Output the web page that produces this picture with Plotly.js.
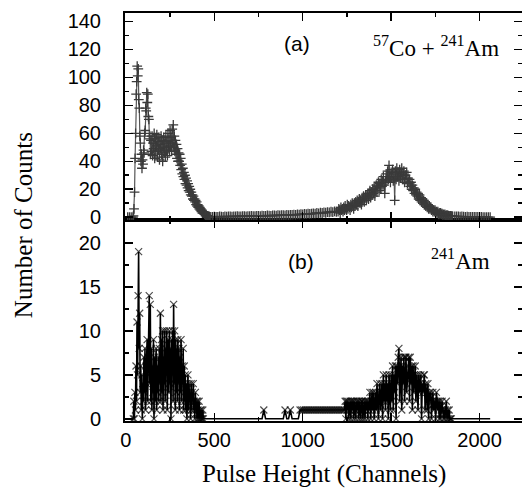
<!DOCTYPE html>
<html>
<head>
<meta charset="utf-8">
<script src="https://cdn.plot.ly/plotly-3.0.1.min.js"></script>
<style>html,body{margin:0;padding:0;background:#fff;}#chart{width:522px;height:493px;}</style>
</head>
<body>
<div id="chart"></div>
<script>
// ---------- Panel (a): 57Co + 241Am ----------
const chanA1 = [10,20,30,40,43,46,49,52,55,58,61,64,67,70,73,76,79,82,85,88,91,94,97,100,103,106,109,112,115,118,121,124,127,130,133,136,139,142,145,148,151,154,157,160,163,166,169,172,175,178,181,184,187,190,193,196,199,202,205,208,211,214,217,220,223,226,229,232,235,238,241,244,247,250,253,256,259,262,265,268,271,274,277,280,283,286,289,292,295,298,
301,304,307,310,313,316,319,322,325,328,331,334,337,340,343,346,349,352,355,358,361,364,367,370,373,376,379,382,385,388,391,394,397,400,403,406,409,412,415,418,421,424,427,430,433,436,439,442,445,448,451,454,457,460,463,466,469,472];
const countA1 = [0,0,0,0,1,6,18,42,60,88,97,108,101,106,84,78,58,53,40,45,35,41,38,48,46,60,62,78,76,89,82,88,72,70,56,58,45,55,47,58,44,53,49,60,42,56,47,51,59,43,54,48,57,41,52,49,58,45,55,40,50,57,46,53,43,58,48,54,44,60,50,55,47,62,51,57,48,63,53,66,50,58,47,55,45,52,42,49,40,46,
40,45,37,42,34,38,31,35,29,32,27,30,24,28,23,26,21,24,19,22,18,20,16,18,15,16,13,15,12,13,11,12,9,11,8,9,7,8,6,7,5,6,4,5,3,4,3,3,2,2,1.5,1.5,1,1,0.7,0.6,0.5,0.4];
const chanA2 = [480,490,500,510,520,530,540,550,560,570,580,590,600,610,620,630,640,650,660,670,680,690,700,710,720,730,740,750,760,770,780,790,800,810,820,830,840,850,860,870,880,890,900,910,920,930,940,950,960,970,980,990,1000,1010,1020,1030,1040,1050,1060,1070,1080,1090,1100,1110,1120,1130,1140,1150,1160,1170,1180,1190];
const countA2 = [0.3,0.2,0.4,0.3,0.3,0.5,0.4,0.3,0.5,0.4,0.6,0.5,0.4,0.6,0.5,0.7,0.6,0.5,0.7,0.8,0.6,0.8,0.7,0.9,0.8,0.7,1,0.9,0.8,1.1,1,0.9,1.2,1.1,1,1.3,1.2,1.1,1.4,1.3,1.5,1.4,1.3,1.6,1.5,1.7,1.6,1.8,1.7,2,1.9,2.1,2,2.3,2.2,2.5,2.3,2.6,2.8,2.6,3,2.8,3.2,3,3.4,3.2,3.6,3.4,3.9,3.6,4.2,3.9];
const chanA3 = [1200,1204,1208,1212,1216,1220,1224,1228,1232,1236,1240,1244,1248,1252,1256,1260,1264,1268,1272,1276,1280,1284,1288,1292,1296,1300,1304,1308,1312,1316,1320,1324,1328,1332,1336,1340,1344,1348,1352,1356,1360,1364,1368,1372,1376,1380,1384,1388,1392,1396,
1400,1404,1408,1412,1416,1420,1424,1428,1432,1436,1440,1444,1448,1452,1456,1460,1464,1468,1472,1476,1480,1484,1488,1492,1496,1500,1504,1508,1512,1516,1520,1524,1528,1532,1536,1540,1544,1548,1552,1556,1560,1564,1568,1572,1576,1580,1584,1588,1592,1596,
1600,1604,1608,1612,1616,1620,1624,1628,1632,1636,1640,1644,1648,1652,1656,1660,1664,1668,1672,1676,1680,1684,1688,1692,1696,1700,1704,1708,1712,1716,1720,1724,1728,1732,1736,1740,1744,1748,1752,1756,1760,1764,1768,1772,1776,1780,1784,1788,1792,1796,
1800,1804,1808,1812,1816,1820,1824,1828,1832,1836,1840,1844,1848];
const countA3 = [4,6,5,3,7,5,6,4,7,5,8,6,5,9,6,8,7,5,9,7,10,8,6,10,8,11,9,12,8,11,13,10,12,9,14,12,15,11,14,16,12,15,17,13,16,19,14,18,16,20,
17,21,15,19,23,18,22,25,19,24,21,27,22,26,29,23,17,25,31,26,33,27,37,29,25,32,28,34,26,31,12,33,27,35,29,32,26,34,28,31,35,27,30,33,25,30,27,32,24,28,
25,27,22,25,20,23,19,21,17,20,16,18,15,17,13,16,12,14,11,13,10,12,9,11,8,10,7,9,6,8,6,7,5,6,4,5,4,5,3,4,3,4,2,3,2,3,2,2.5,1.5,2,
1.5,2,1,1.5,1,1.5,1,1,0.8,1,0.7,0.8,0.6];
const chanA4 = [1860,1870,1880,1890,1900,1910,1920,1930,1940,1950,1960,1970,1980,1990,2000,2010,2020,2030,2040,2050,2060];
const countA4 = [0.6,0.5,0.6,0.4,0.5,0.4,0.3,0.4,0.3,0.3,0.2,0.3,0.2,0.2,0.1,0.2,0.1,0.1,0,0.1,0];

// ---------- Panel (b): 241Am ----------
const chanB1 = [42,45,48,51,54,57,60,63,66,69,72,75,78,81,84,87,90,93,96,99,102,105,108,111,114,117,120,123,126,129,132,135,138,141,144,147,150,153,156,159,162,165,168,171,174,177,180,183,186,189,192,195,198,201,204,207,210,213,216,219,222,225,228,231,234,237,240,243,246,249,252,255,258,261,264,267,270,273,276,279,282,285,288,291,294,297,300,303,306,309,312,315,318,321,324,327,330,333,336,339,342,345,348,351,354,357,360,363,366,369,372,375,378,381,384,387,390,393,396,399,402,405,408,411,414,417,420,423,426,429,432,435,438];
const countB1 = [0,2,0,3,1,6, 2,11,5,14,19,8,12,3, 6,1,5,0,4,2, 7,3,8,1,6,4,9,2,7,5, 14,4,13,2,
8,1,6,3,9,0,7,2,5,8,1,6,3,7,2,8,4, 12,2,9,
3,10,1,7,4,10,2,8,5,10,1,7,9,3,10,4,8,0,9,5,10,2,
13,4,10,1,9,3,8, 2,9,4,8,1,7,3,9,2,6,4,8,1,6,
2,5,1,4,0,3,5,1,4,2,3,0,4,1,3,2,4, 1,2,0,3,1,2,0,2,1,0,2,0,1,0,1,0,0,1,0];
const chanB2 = [450,470,490,510,530,550,570,590,610,630,650,670,690,710,730,750,770,780,790,810,830,850,870,890,900,910,920,930,940,960,975,985,995,1005,1015,1025,1035,1045,1055,1065,1075,1085,1095,1105,1115,1125,1135,1145,1155,1165,1175,1185,1195,1205,1215,1225,1235];
const countB2 = [0,0,0,0,0,0,0,0,0,0,0,0,0,0,0,0,0,1,0,0,0,0,0,0,1,0,0,1,0,0,0,1,1,1,1,1,1,1,1,1,1,1,1,1,1,1,1,1,1,1,1,1,1,1,1,1,1];
const chanB3 = [1240,1244,1248,1252,1256,1260,1264,1268,1272,1276,1280,1284,1288,1292,1296,1300,1304,1308,1312,1316,1320,1324,1328,1332,1336,1340,1344,1348,1352,1356,1360,1364,1368,1372,1376,1380,1384,1388,1392,1396,
1400,1404,1408,1412,1416,1420,1424,1428,1432,1436,1440,1444,1448,1452,1456,1460,1464,1468,1472,1476,1480,1484,1488,1492,1496,
1500,1504,1508,1512,1516,1520,1524,1528,1532,1536,1540,1544,1548,1552,1556,1560,1564,1568,1572,1576,1580,1584,1588,1592,1596,
1600,1604,1608,1612,1616,1620,1624,1628,1632,1636,1640,1644,1648,1652,1656,1660,1664,1668,1672,1676,1680,1684,1688,1692,1696,
1700,1704,1708,1712,1716,1720,1724,1728,1732,1736,1740,1744,1748,1752,1756,1760,1764,1768,1772,1776,1780,1784,1788,1792,1796,
1800,1804,1808,1812,1816,1820,1824,1828,1832,1836,1840];
const countB3 = [2,0,2,1,2,0,1,2,0,2,1,2,0,2,1,0,2,1,2,0,2,1,0,2,2,0,1,2,0,2,1,2,0,2,1,3,0,2,3,1,
3,0,2,3,1,4,2,0,3,4,1,3,4,0,5,2,4,1,5,2,4,0,5,3,1,
5,2,6,1,5,3,6,0,6,4,7,8,2,6,7,1,6,4,7,2,7,7,3,5,6,
7,2,7,4,6,1,6,3,5,6,2,5,4,1,5,3,4,5,0,4,3,5,5,1,4,
3,1,4,0,3,2,3,0,2,3,1,2,2,0,3,2,1,2,0,2,0,1,2,1,0,
1,0,1,2,0,1,0,1,0,0,0];
const chanB4 = [1860,1880,1900,1920,1940,1960,1980,2000,2020,2040,2060];
const countB4 = [0,0,0,0,0,0,0,0,0,0,0];

// ---------- Axis ticks ----------
const xTickVals = [0,500,1000,1500,2000];
const yTickValsA = [0,20,40,60,80,100,120,140];
const yTickValsB = [0,5,10,15,20];

const chanA = chanA1.concat(chanA2, chanA3, chanA4);
const countA = countA1.concat(countA2, countA3, countA4);
const chanB = chanB1.concat(chanB2, chanB3, chanB4);
const countB = countB1.concat(countB2, countB3, countB4);

// marker sizes for (b): zero counts in the empty stretches are drawn as the baseline only
const MS = 7;
const sizeB = countB1.map(() => MS)
  .concat(countB2.map(c => c > 0 ? MS : 0), countB3.map(() => MS), countB4.map(() => 0));

const traceA = {
  x: chanA, y: countA, xaxis: 'x2', yaxis: 'y',
  type: 'scatter', mode: 'lines+markers',
  line: {color: '#555555', width: 1.2},
  marker: {symbol: 'cross-thin-open', size: 7, color: '#3a3a3a', line: {color: '#3a3a3a', width: 1.3}},
  hoverinfo: 'none', showlegend: false
};
const traceB = {
  x: chanB, y: countB, xaxis: 'x', yaxis: 'y2',
  type: 'scatter', mode: 'lines+markers',
  line: {color: '#000000', width: 1.6},
  marker: {symbol: 'x-thin-open', size: sizeB, color: '#000000', line: {color: '#000000', width: 1.2}},
  hoverinfo: 'none', showlegend: false
};

const split = 201/408;
const tickFont = {family: 'Liberation Sans, Arial, sans-serif', size: 20, color: '#000'};
const serif = 'Liberation Serif, Times New Roman, serif';
const common = {
  showline: true, linecolor: '#000', linewidth: 2, mirror: 'ticks',
  ticks: 'inside', ticklen: 8, tickwidth: 1.5, tickcolor: '#000',
  showgrid: false, zeroline: false, tickfont: tickFont
};
const minorX = {dtick: 250, tick0: 0, ticks: 'inside', ticklen: 4, tickwidth: 1.5, tickcolor: '#000'};

const layout = {
  width: 522, height: 493,
  margin: {l: 125, r: 0, t: 13, b: 72},
  paper_bgcolor: '#fff', plot_bgcolor: '#fff',
  xaxis: Object.assign({}, common, {
    domain: [0, 1], anchor: 'y2', range: [-5, 2240],
    tickvals: xTickVals, ticktext: xTickVals.map(String), minor: minorX
  }),
  xaxis2: Object.assign({}, common, {
    domain: [0, 1], anchor: 'y', matches: 'x', range: [-5, 2240],
    tickvals: xTickVals, showticklabels: false, minor: minorX
  }),
  yaxis: Object.assign({}, common, {
    domain: [split, 1], anchor: 'x2', range: [-2, 146],
    tickvals: yTickValsA, ticktext: yTickValsA.map(String), ticklabelstandoff: 18,
    minor: {dtick: 10, tick0: 0, ticks: 'inside', ticklen: 4, tickwidth: 1.5, tickcolor: '#000'}
  }),
  yaxis2: Object.assign({}, common, {
    domain: [0, split], anchor: 'x', range: [-0.25, 22.6],
    tickvals: yTickValsB, ticktext: yTickValsB.map(String), ticklabelstandoff: 18,
    minor: {dtick: 2.5, tick0: 0, ticks: 'inside', ticklen: 4, tickwidth: 1.5, tickcolor: '#000'}
  }),
  annotations: [
    {text: '(a)', xref: 'paper', yref: 'paper', x: 0.433, y: 0.926, xanchor: 'center', yanchor: 'middle', showarrow: false,
     font: {family: 'Liberation Sans, Arial, sans-serif', size: 21, color: '#000'}},
    {text: '<sup>57</sup>Co + <sup>241</sup>Am', xref: 'paper', yref: 'paper', x: 0.783, y: 0.917, xanchor: 'center', yanchor: 'middle', showarrow: false,
     font: {family: serif, size: 23, color: '#000'}},
    {text: '(b)', xref: 'paper', yref: 'paper', x: 0.443, y: 0.39, xanchor: 'center', yanchor: 'middle', showarrow: false,
     font: {family: 'Liberation Sans, Arial, sans-serif', size: 21, color: '#000'}},
    {text: '<sup>241</sup>Am', xref: 'paper', yref: 'paper', x: 0.846, y: 0.395, xanchor: 'center', yanchor: 'middle', showarrow: false,
     font: {family: serif, size: 23, color: '#000'}},
    {text: 'Number of Counts', xref: 'paper', yref: 'paper', x: -0.257, y: 0.48, xanchor: 'center', yanchor: 'middle', textangle: -90, showarrow: false,
     font: {family: serif, size: 25, color: '#000'}},
    {text: 'Pulse Height (Channels)', xref: 'paper', yref: 'paper', x: 0.5, y: -0.13, xanchor: 'center', yanchor: 'middle', showarrow: false,
     font: {family: serif, size: 25, color: '#000'}}
  ]
};

Plotly.newPlot('chart', [traceA, traceB], layout, {staticPlot: true, displayModeBar: false});
</script>
</body>
</html>
